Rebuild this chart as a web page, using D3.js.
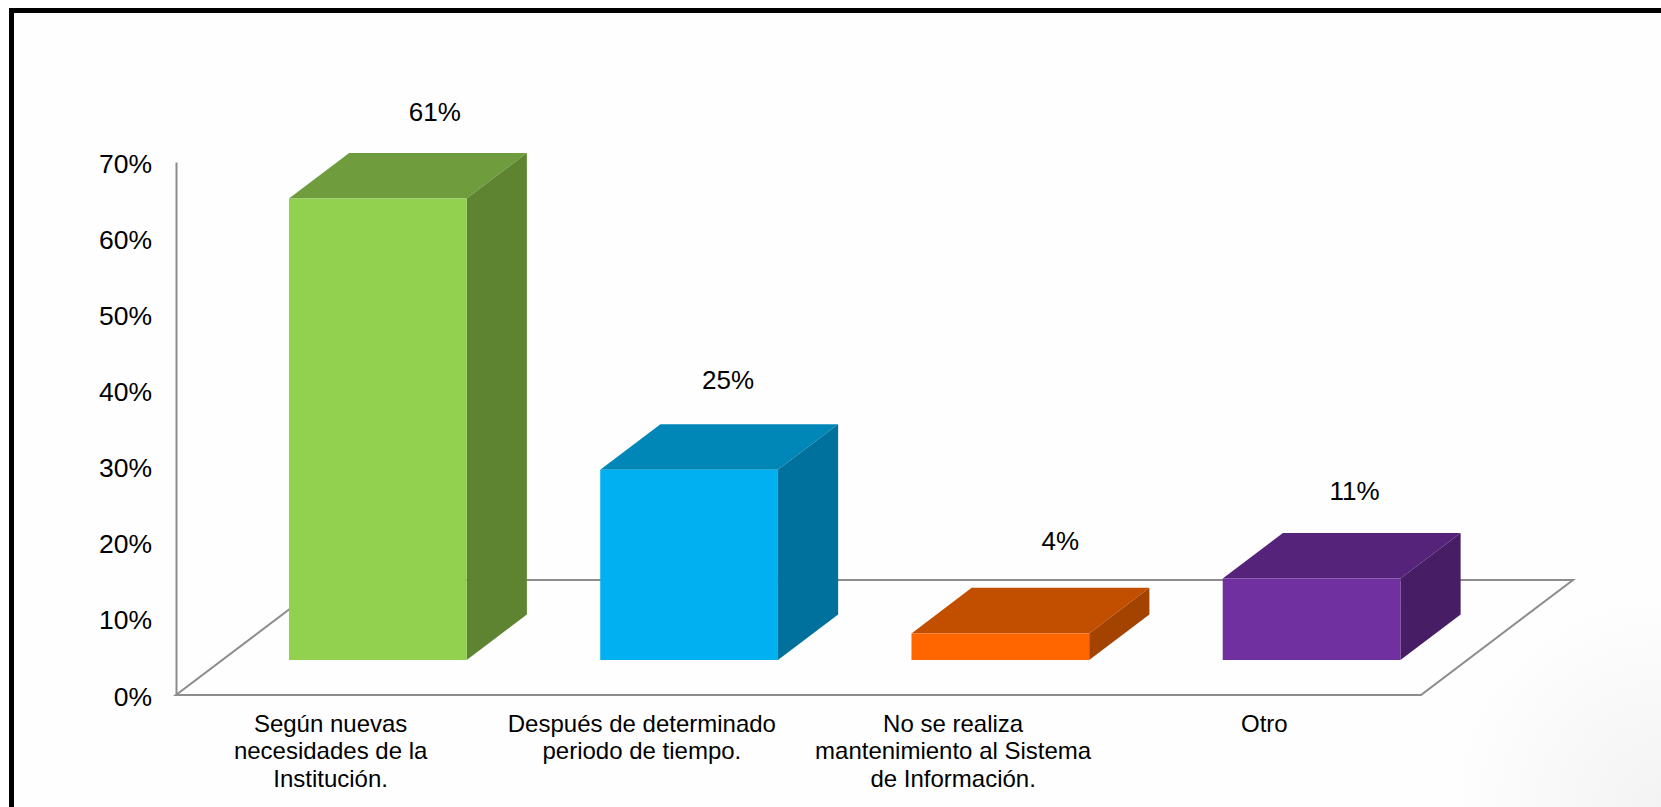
<!DOCTYPE html>
<html lang="es">
<head>
    <meta charset="UTF-8">
    <title>Mantenimiento del Sistema de Información</title>
    <style>
        html, body { margin: 0; padding: 0; background: #fff; }
        svg { display: block; font-family: "Liberation Sans", Arial, sans-serif; }
        .floor { fill: none; stroke: #8c8c8c; stroke-width: 2px; }
        .axis path { stroke: #8c8c8c; stroke-width: 2px; }
        .axis text { font-family: "Liberation Sans", Arial, sans-serif; font-size: 26.5px; fill: #000; }
    </style>
    <script src="https://d3js.org/d3.v7.min.js"></script>
</head>
<body>
    <div id="chart"></div>

    <script>
        const categories = [
            "Según nuevas\nnecesidades de la\nInstitución.",
            "Después de determinado\nperiodo de tiempo.",
            "No se realiza\nmantenimiento al Sistema\nde Información.",
            "Otro"
        ];
        const values = [60.6, 25, 3.5, 10.7];
        const yTicks = [0, 10, 20, 30, 40, 50, 60, 70];
        const frontColors = ["#92d050", "#00b0f0", "#ff6600", "#7030a0"];
        const topColors = ["#6f9c3c", "#0087b8", "#c24e00", "#55247a"];
        const sideColors = ["#5e8431", "#00709c", "#a44200", "#471e66"];

        const width = 1661, height = 807;

        // floor of the 3d box: how far the back edge moves from the front edge
        const floorDx = 152, floorDy = 115;
        const barFront = 0.304, barBack = 0.70;
        // the data labels were placed by hand in the original
        const labelDx = [57, 39, 60, 43];
        const labelDy = [-41, -45, -47, -42];

        const x = d3.scaleBand().domain(categories).range([176, 1421]).paddingInner(0.429).paddingOuter(0.2145);
        const y = d3.scaleLinear().domain([0, 70]).range([695, 162]);

        // screen position of a point given band x, value and depth (0 front, 1 back)
        function project(px, v, depth) {
            return [px + depth * floorDx, y(v) - depth * floorDy];
        }

        const svg = d3.select("#chart").append("svg")
            .attr("width", width)
            .attr("height", height);

        const defs = svg.append("defs");
        const shade = defs.append("radialGradient")
            .attr("id", "cornerShade")
            .attr("gradientUnits", "userSpaceOnUse")
            .attr("cx", 1661).attr("cy", 807).attr("r", 210);
        shade.append("stop").attr("offset", "0%").attr("stop-color", "#f3f3f3");
        shade.append("stop").attr("offset", "100%").attr("stop-color", "#fefefe");

        svg.append("rect").attr("width", width).attr("height", height).attr("fill", "url(#cornerShade)");

        // black frame, runs off the right and bottom of the picture
        svg.append("rect").attr("x", 0).attr("y", 0).attr("width", width).attr("height", 7.5).attr("fill", "#fff");
        svg.append("rect").attr("x", 0).attr("y", 0).attr("width", 8.5).attr("height", height).attr("fill", "#fff");
        svg.append("path")
            .attr("d", `M11.5,${height + 5}V10.5H${width + 5}`)
            .attr("fill", "none")
            .attr("stroke", "#000")
            .attr("stroke-width", 5);

        // floor
        const x0 = x.range()[0], x1 = x.range()[1];
        const floorLine = d3.line();
        svg.append("path").attr("class", "floor")
            .attr("d", floorLine([
                project(x0, 0, 1), project(x0, 0, 0), project(x1, 0, 0), project(x1, 0, 1), project(x0, 0, 1)
            ]));

        // y axis
        const yAxis = svg.append("g")
            .attr("class", "axis")
            .attr("transform", `translate(${x0},0)`)
            .call(d3.axisLeft(y).tickValues(yTicks).tickSize(0).tickPadding(24).tickFormat(d => d + "%"));
        yAxis.selectAll("text").attr("dy", "0.38em");

        // bars
        const bars = svg.selectAll(".bar")
            .data(values)
            .enter().append("g")
            .attr("class", "bar");

        const poly = d3.line();

        bars.append("path") // top
            .attr("fill", (d, i) => topColors[i])
            .attr("d", (d, i) => {
                const l = x(categories[i]), r = l + x.bandwidth();
                return poly([project(l, d, barFront), project(r, d, barFront), project(r, d, barBack), project(l, d, barBack)]) + "Z";
            });

        bars.append("path") // side
            .attr("fill", (d, i) => sideColors[i])
            .attr("d", (d, i) => {
                const r = x(categories[i]) + x.bandwidth();
                return poly([project(r, 0, barFront), project(r, d, barFront), project(r, d, barBack), project(r, 0, barBack)]) + "Z";
            });

        bars.append("path") // front
            .attr("fill", (d, i) => frontColors[i])
            .attr("d", (d, i) => {
                const l = x(categories[i]), r = l + x.bandwidth();
                return poly([project(l, 0, barFront), project(r, 0, barFront), project(r, d, barFront), project(l, d, barFront)]) + "Z";
            });

        // data labels
        bars.append("text")
            .attr("x", (d, i) => project(x(categories[i]) + x.bandwidth() / 2, d, barFront)[0] + labelDx[i])
            .attr("y", (d, i) => project(0, d, barBack)[1] + labelDy[i])
            .attr("dy", "0.36em")
            .attr("text-anchor", "middle")
            .style("font-size", "26px")
            .text(d => d3.format(".0f")(d) + "%");

        // category labels
        svg.selectAll(".cat")
            .data(categories)
            .enter().append("text")
            .attr("class", "cat")
            .attr("text-anchor", "middle")
            .style("font-size", "24px")
            .each(function (d) {
                d3.select(this).selectAll("tspan")
                    .data(d.split("\n"))
                    .enter().append("tspan")
                    .attr("x", x(d) + x.bandwidth() / 2 - 1)
                    .attr("y", (line, i) => 731.5 + i * 27.6)
                    .text(line => line);
            });
    </script>
</body>
</html>
